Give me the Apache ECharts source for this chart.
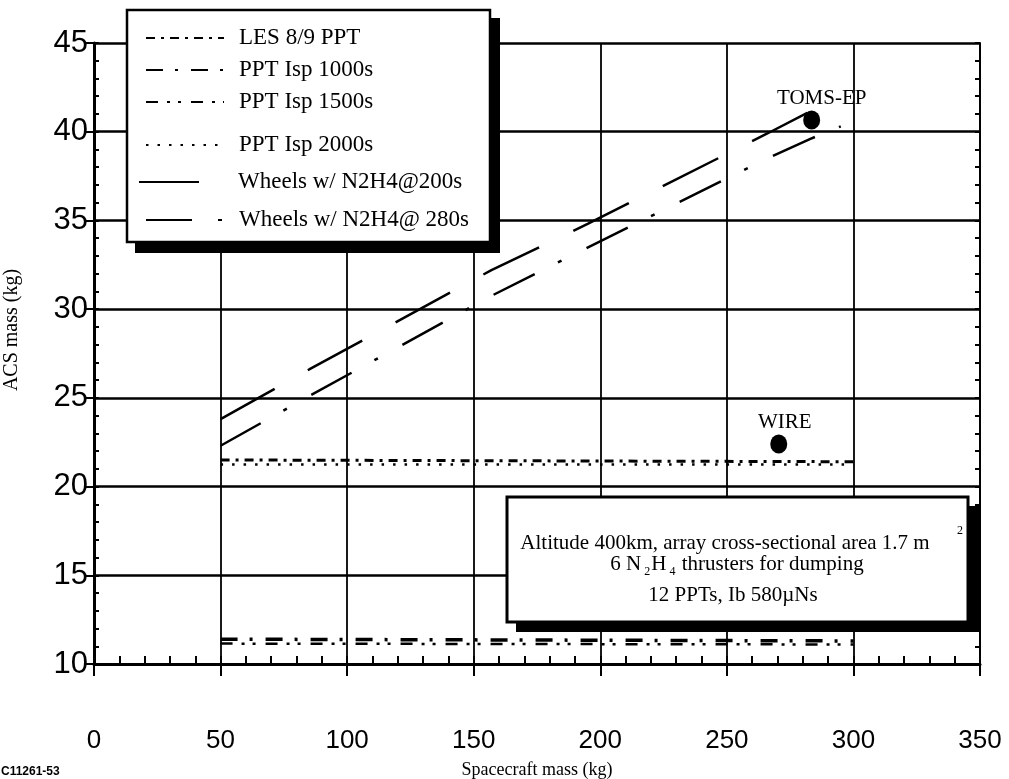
<!DOCTYPE html>
<html>
<head>
<meta charset="utf-8">
<script src="https://cdn.jsdelivr.net/npm/echarts@6/dist/echarts.min.js"></script>
<style>
html,body{margin:0;padding:0;background:#fff;}
#chart{width:1009px;height:779px;}
</style>
</head>
<body>
<div id="chart"></div>
<script>
// ---- data ----
const xTickLabels = [0, 50, 100, 150, 200, 250, 300, 350];
const yTickLabels = [10, 15, 20, 25, 30, 35, 40, 45];
const seriesNames = ['LES 8/9 PPT', 'PPT Isp 1000s', 'PPT Isp 1500s', 'PPT Isp 2000s', 'Wheels w/ N2H4@200s', 'Wheels w/ N2H4@ 280s'];

const lesX = [50, 300];
const lesY = [21.5, 21.4];
const ppt1000X = [50, 300];
const ppt1000Y = [11.4, 11.3];
const ppt1500X = [50, 300];
const ppt1500Y = [11.15, 11.1];
const ppt2000X = [50, 300];
const ppt2000Y = [21.25, 21.25];
const wheels200X = [50, 85, 157, 195, 266, 285];
const wheels200Y = [23.8, 26.6, 32.2, 34.8, 39.9, 41.3];
const wheels280X = [50, 85, 157, 194, 266, 283, 295];
const wheels280Y = [22.3, 25.1, 30.75, 33.4, 38.5, 39.6, 40.3];

const missionNames = ['TOMS-EP', 'WIRE'];
const missionX = [283.5, 270.5];
const missionY = [40.66, 22.4];

// ---- helpers ----
const pair = (xs, ys) => xs.map((x, i) => [x, ys[i]]);
const SERIF = 'Liberation Serif';
const SANS = 'Liberation Sans';

function lineSeries(name, xs, ys, dash, width) {
  return {
    name: name, type: 'line', data: pair(xs, ys),
    symbol: 'none', showSymbol: false, silent: true,
    lineStyle: { color: '#000', width: width, type: dash, cap: 'butt' },
    itemStyle: { color: '#000' }
  };
}

const legendRowsY = [38, 70, 102, 145, 182, 220];
const legends = seriesNames.map((n, i) => {
  const lg = {
    data: [n], left: 145, top: legendRowsY[i] - 14,
    itemWidth: 78, itemHeight: 14, padding: 0, z: 6,
    itemStyle: { opacity: 0, borderWidth: 0 },
    textStyle: { fontFamily: SERIF, fontSize: 23, color: '#000', padding: [0, 0, 0, 10], lineHeight: 28 },
    selectedMode: false
  };
  if (i === 4) { lg.lineStyle = { type: 'solid' }; lg.itemWidth = 60; lg.left = 138; lg.textStyle.padding = [0, 0, 0, 34]; }
  return lg;
});

const option = {
  animation: false,
  backgroundColor: '#fff',
  grid: { left: 94, right: 29, top: 43, bottom: 115, containLabel: false, outerBoundsMode: 'none' },
  legend: legends,
  xAxis: [
    {
      type: 'value', min: 0, max: 350, interval: 50, position: 'bottom',
      name: 'Spacecraft mass (kg)', nameLocation: 'middle', nameGap: 97, nameMoveOverlap: false,
      nameTextStyle: { fontFamily: SERIF, fontSize: 18, color: '#000' },
      axisLine: { onZero: false, lineStyle: { color: '#000', width: 3 } },
      axisTick: { show: true, inside: false, length: 12, lineStyle: { color: '#000', width: 2 } },
      axisLabel: { fontFamily: SANS, fontSize: 26, color: '#000', margin: 64,
        formatter: v => xTickLabels.includes(v) ? String(v) : '' },
      splitLine: { show: true, lineStyle: { color: '#000', width: 1.8 } }
    },
    {
      type: 'value', min: 0, max: 350, interval: 10, position: 'bottom',
      axisLine: { show: false },
      axisTick: { show: true, inside: true, length: 8, lineStyle: { color: '#000', width: 2 } },
      axisLabel: { show: false }, splitLine: { show: false }
    }
  ],
  yAxis: [
    {
      type: 'value', min: 10, max: 45, interval: 5, position: 'left',
      axisLine: { onZero: false, lineStyle: { color: '#000', width: 3 } },
      axisTick: { show: true, inside: false, length: 8, lineStyle: { color: '#000', width: 2 } },
      axisLabel: { fontFamily: SANS, fontSize: 31, color: '#000', margin: 6, padding: [8, 0, 0, 0],
        formatter: v => yTickLabels.includes(v) ? String(v) : '' },
      splitLine: { show: true, lineStyle: { color: '#000', width: 2.5 } }
    },
    {
      type: 'value', min: 10, max: 45, interval: 1, position: 'left',
      axisLine: { show: false },
      axisTick: { show: true, inside: true, length: 5, lineStyle: { color: '#000', width: 2 } },
      axisLabel: { show: false }, splitLine: { show: false }
    },
    {
      type: 'value', min: 10, max: 45, interval: 1, position: 'right',
      axisLine: { show: true, onZero: false, lineStyle: { color: '#000', width: 2 } },
      axisTick: { show: true, inside: true, length: 5, lineStyle: { color: '#000', width: 2 } },
      axisLabel: { show: false }, splitLine: { show: false }
    }
  ],
  series: [
    lineSeries(seriesNames[0], lesX, lesY, [9, 6, 3, 6], 3),
    lineSeries(seriesNames[1], ppt1000X, ppt1000Y, [17, 12, 3, 13], 3.5),
    lineSeries(seriesNames[2], ppt1500X, ppt1500Y, [12, 9, 3, 8, 3, 10], 2.5),
    lineSeries(seriesNames[3], ppt2000X, ppt2000Y, [2.5, 9], 2.5),
    lineSeries(seriesNames[4], wheels200X, wheels200Y, [62, 38], 2.5),
    lineSeries(seriesNames[5], wheels280X, wheels280Y, [46, 26, 4, 28], 2.5),
    {
      name: 'missions', type: 'scatter', silent: true, z: 3,
      data: missionX.map((x, i) => ({
        value: [x, missionY[i]], name: missionNames[i],
        label: { offset: i === 0 ? [10, 0] : [6, 0] }
      })),
      symbol: 'circle', symbolSize: [17, 19],
      itemStyle: { color: '#000', opacity: 1 },
      label: { show: true, position: 'top', distance: 2, formatter: p => p.name,
        fontFamily: SERIF, fontSize: 21, color: '#000' }
    }
  ],
  graphic: [
    // legend frame
    { type: 'rect', z: 3, shape: { x: 135, y: 18, width: 365, height: 235 }, style: { fill: '#000' } },
    { type: 'rect', z: 4, shape: { x: 127, y: 10, width: 363, height: 232 }, style: { fill: '#fff', stroke: '#000', lineWidth: 2.5 } },
    // annotation box
    { type: 'rect', z: 3, shape: { x: 516, y: 506, width: 463, height: 126 }, style: { fill: '#000' } },
    { type: 'rect', z: 4, shape: { x: 507, y: 497, width: 461, height: 125 }, style: { fill: '#fff', stroke: '#000', lineWidth: 3 } },
    { type: 'text', z: 5, x: 725, y: 543, style: { text: 'Altitude 400km, array cross-sectional area 1.7 m', fontFamily: SERIF, fontSize: 21, fill: '#000', align: 'center', verticalAlign: 'middle' } },
    { type: 'text', z: 5, x: 960, y: 531, style: { text: '2', fontFamily: SERIF, fontSize: 12, fill: '#000', align: 'center', verticalAlign: 'middle' } },
    { type: 'text', z: 5, x: 737, y: 564, style: {
        text: '6 N{s|2}H{s|4} thrusters for dumping', fontFamily: SERIF, fontSize: 21, fill: '#000', align: 'center', verticalAlign: 'middle',
        rich: { s: { fontFamily: SERIF, fontSize: 12, fill: '#000', padding: [16, 1, 0, 3] } } } },
    { type: 'text', z: 5, x: 733, y: 595, style: { text: '12 PPTs, Ib 580\u00b5Ns', fontFamily: SERIF, fontSize: 21, fill: '#000', align: 'center', verticalAlign: 'middle' } },
    // y axis name
    { type: 'text', z: 5, x: 12, y: 330, rotation: Math.PI / 2, style: { text: 'ACS mass (kg)', fontFamily: SERIF, fontSize: 20, fill: '#000', align: 'center', verticalAlign: 'middle' } },
    // corner code
    { type: 'text', z: 5, x: 1, y: 772, style: { text: 'C11261-53', fontFamily: SANS, fontSize: 12, fontWeight: 'bold', fill: '#000', align: 'left', verticalAlign: 'middle' } }
  ]
};

const chart = echarts.init(document.getElementById('chart'), null, { renderer: 'canvas' });
chart.setOption(option);
</script>
</body>
</html>
